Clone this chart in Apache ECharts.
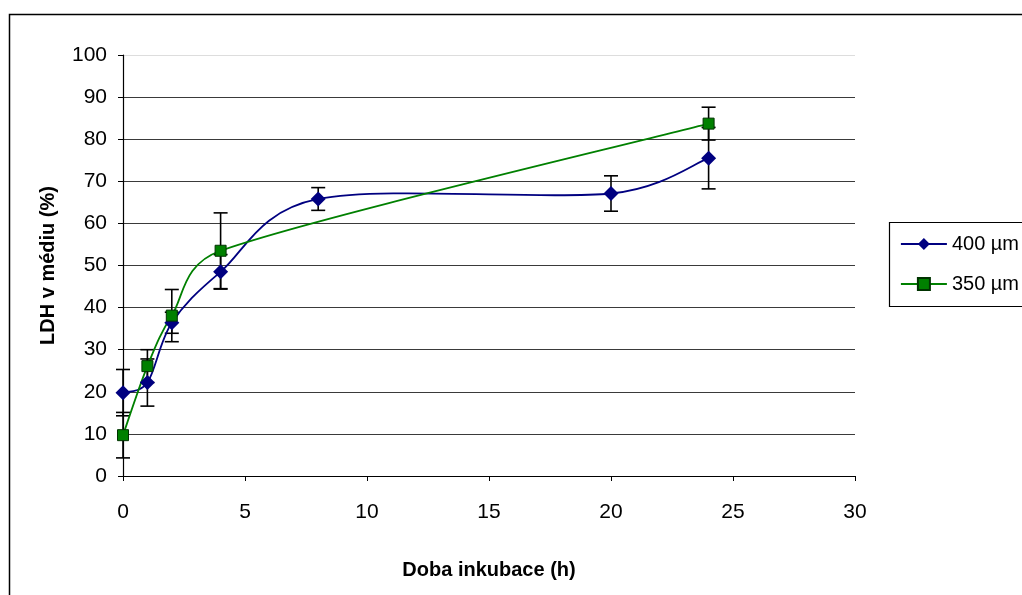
<!DOCTYPE html>
<html>
<head>
<meta charset="utf-8">
<script src="https://cdn.jsdelivr.net/npm/echarts@6/dist/echarts.min.js"></script>
<style>
html,body{margin:0;padding:0;background:#fff;}
#c{width:1022px;height:595px;}
</style>
</head>
<body>
<div id="c"></div>
<script>
// Data
var seriesNames = ['400 µm', '350 µm'];
var x400 = [0, 1, 2, 4, 8, 20, 24];
var y400 = [19.8, 22.2, 36.4, 48.5, 65.8, 67.1, 75.5];
var err400 = [5.5, 5.6, 2.5, 4.1, 2.7, 4.2, 7.3];
var x350 = [0, 1, 2, 4, 24];
var y350 = [9.7, 26.1, 38.1, 53.5, 83.7];
var err350 = [5.4, 3.9, 6.2, 9.0, 3.9];
var xTicks = [0, 5, 10, 15, 20, 25, 30];
var yTicks = [0, 10, 20, 30, 40, 50, 60, 70, 80, 90, 100];

var COL400 = '#000080', COL350 = '#008000';

function pts(xs, ys) { return xs.map(function (x, i) { return [x, ys[i]]; }); }
function errPts(xs, ys, es) { return xs.map(function (x, i) { return [x, ys[i], es[i]]; }); }

function errRender(params, api) {
  var x = api.value(0), y = api.value(1), e = api.value(2);
  var top = api.coord([x, y + e]);
  var bot = api.coord([x, y - e]);
  var hw = 7;
  var st = { stroke: '#000', lineWidth: 1.6 };
  return {
    type: 'group',
    children: [
      { type: 'line', shape: { x1: top[0], y1: top[1], x2: bot[0], y2: bot[1] }, style: st },
      { type: 'line', shape: { x1: top[0] - hw, y1: top[1], x2: top[0] + hw, y2: top[1] }, style: st },
      { type: 'line', shape: { x1: bot[0] - hw, y1: bot[1], x2: bot[0] + hw, y2: bot[1] }, style: st }
    ]
  };
}

// Excel-style smoothed segment (Catmull-Rom with arm limiting), computed in pixel space
function dist(a, b) { return Math.sqrt((a[0] - b[0]) * (a[0] - b[0]) + (a[1] - b[1]) * (a[1] - b[1])); }
function smoothRender(xs, ys, color) {
  return function (params, api) {
    var i = params.dataIndex;
    var n = xs.length;
    if (i >= n - 1) return null;
    var P = function (k) { k = Math.max(0, Math.min(n - 1, k)); return api.coord([xs[k], ys[k]]); };
    var p0 = P(i - 1), p1 = P(i), p2 = P(i + 1), p3 = P(i + 2);
    var d12 = dist(p1, p2), d02 = dist(p0, p2), d13 = dist(p1, p3);
    var f1 = (d02 / 6 < d12 / 2) ? 1 / 6 : (d02 > 0 ? d12 / (2 * d02) : 0);
    var f2 = (d13 / 6 < d12 / 2) ? 1 / 6 : (d13 > 0 ? d12 / (2 * d13) : 0);
    return {
      type: 'bezierCurve',
      shape: {
        x1: p1[0], y1: p1[1], x2: p2[0], y2: p2[1],
        cpx1: p1[0] + (p2[0] - p0[0]) * f1, cpy1: p1[1] + (p2[1] - p0[1]) * f1,
        cpx2: p2[0] - (p3[0] - p1[0]) * f2, cpy2: p2[1] - (p3[1] - p1[1]) * f2
      },
      style: { stroke: color, lineWidth: 1.8, fill: null }
    };
  };
}

var gridColors = yTicks.map(function (v, i) { return i === yTicks.length - 1 ? '#dddddd' : '#3a3a3a'; });

var chart = echarts.init(document.getElementById('c'), null, { renderer: 'canvas' });
chart.setOption({
  backgroundColor: '#fff',
  animation: false,
  textStyle: { fontFamily: 'Liberation Sans, Arial, sans-serif' },
  grid: { left: 123, right: 167, top: 55, bottom: 119, containLabel: false },
  graphic: [
    { type: 'rect', shape: { x: 9.5, y: 14.5, width: 1100, height: 700 }, style: { fill: null, stroke: '#000', lineWidth: 1.5 }, silent: true },
    { type: 'rect', shape: { x: 889.5, y: 222.5, width: 200, height: 84 }, style: { fill: '#fff', stroke: '#000', lineWidth: 1.2 }, silent: true, z: 0 }
  ],
  legend: {
    orient: 'vertical',
    left: 900,
    top: 234,
    padding: 0,
    itemWidth: 46,
    itemHeight: 15,
    itemGap: 20,
    data: seriesNames,
    lineStyle: { opacity: 1, width: 1.8 },
    textStyle: { fontSize: 20, color: '#000', lineHeight: 20, fontFamily: 'Liberation Sans, Arial, sans-serif' },
    z: 10
  },
  xAxis: {
    type: 'value',
    min: 0, max: 30, interval: 5,
    name: 'Doba inkubace (h)',
    nameLocation: 'middle',
    nameGap: 84,
    nameTextStyle: { fontSize: 20, fontWeight: 'bold', color: '#000' },
    axisLine: { show: true, onZero: false, lineStyle: { color: '#000', width: 1.2 } },
    axisTick: { show: true, inside: false, length: 5, lineStyle: { color: '#000' } },
    axisLabel: { fontSize: 21, color: '#000', margin: 26 },
    splitLine: { show: false }
  },
  yAxis: {
    type: 'value',
    min: 0, max: 100, interval: 10,
    name: 'LDH v médiu (%)',
    nameLocation: 'middle',
    nameRotate: 90,
    nameGap: 65,
    nameTextStyle: { fontSize: 20, fontWeight: 'bold', color: '#000' },
    axisLine: { show: true, lineStyle: { color: '#000', width: 1.2 } },
    axisTick: { show: true, inside: false, length: 5, lineStyle: { color: '#000' } },
    axisLabel: { fontSize: 21, color: '#000', margin: 16 },
    splitLine: { show: true, lineStyle: { color: gridColors, width: 1.2 } }
  },
  series: [
    {
      type: 'custom', name: 'err400', renderItem: errRender,
      data: errPts(x400, y400, err400), z: 2, silent: true
    },
    {
      type: 'custom', name: 'err350', renderItem: errRender,
      data: errPts(x350, y350, err350), z: 2, silent: true
    },
    {
      type: 'custom', name: 'curve400', renderItem: smoothRender(x400, y400, COL400),
      data: pts(x400, y400), z: 3, silent: true
    },
    {
      type: 'custom', name: 'curve350', renderItem: smoothRender(x350, y350, COL350),
      data: pts(x350, y350), z: 3, silent: true
    },
    {
      name: seriesNames[0], type: 'line',
      data: pts(x400, y400),
      symbol: 'diamond', symbolSize: 15,
      lineStyle: { color: COL400, width: 1.8, opacity: 0 },
      itemStyle: { color: COL400, borderColor: COL400, borderWidth: 0 },
      z: 4
    },
    {
      name: seriesNames[1], type: 'line',
      data: pts(x350, y350),
      symbol: 'rect', symbolSize: 11,
      lineStyle: { color: COL350, width: 1.8, opacity: 0 },
      itemStyle: { color: COL350, borderColor: '#003300', borderWidth: 1 },
      z: 5
    }
  ]
});
</script>
</body>
</html>
